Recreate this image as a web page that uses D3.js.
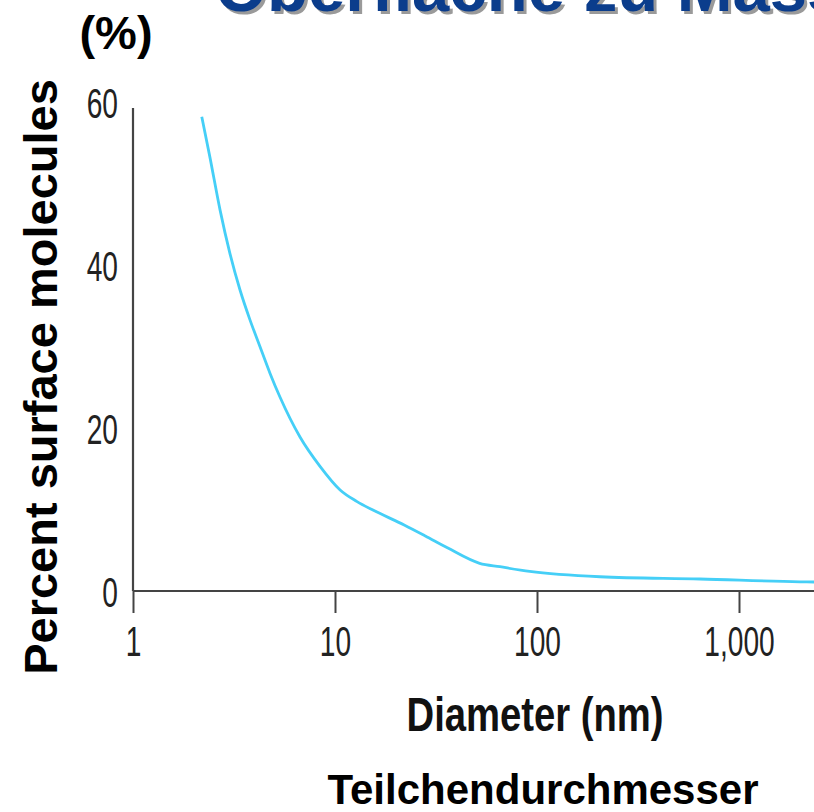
<!DOCTYPE html>
<html>
<head>
<meta charset="utf-8">
<title>Percent surface molecules</title>
<style>
  body { margin: 0; background: #fff; }
  svg { display: block; }
  .narrow { font-family: "Liberation Sans Narrow", "Liberation Sans", Arial, sans-serif; fill: #222; }
  .bold { font-family: "Liberation Sans", Arial, sans-serif; font-weight: bold; fill: #000; }
</style>
</head>
<body>
<script src="https://cdn.jsdelivr.net/npm/d3@7"></script>
<script>
// values
const diameters = [2.19, 2.4, 2.7, 3.02, 3.39, 3.79, 4.25, 4.77, 5.34, 6.71, 8.43, 10.6, 12.8, 15.5, 22, 28, 36, 52, 65.6, 92, 205, 641, 2004, 2400];
const percents  = [58.2, 53.3, 46.7, 41.4, 36.9, 33.3, 30.0, 26.7, 23.8, 18.9, 15.3, 12.4, 11.0, 9.9, 8.1, 6.75, 5.3, 3.4, 2.98, 2.4, 1.75, 1.47, 1.13, 1.1];
const xTicks = [1, 10, 100, 1000];
const xTickLabels = ["1", "10", "100", "1,000"];
const yTicks = [0, 20, 40, 60];

const W = 814, H = 812;

const svg = d3.select('body').append('svg')
  .attr('width', W)
  .attr('height', H);

const x = d3.scaleLog().domain([1, 1000]).range([133, 739]);
const y = d3.scaleLinear().domain([0, 60]).range([591, 102]);

// title cut off at the top edge
const title = "Oberfläche zu Masse";
svg.append('text').attr('class', 'bold')
  .attr('x', 218).attr('y', 14)
  .style('font-size', '67px').style('fill', '#9a9a9a')
  .text(title);
svg.append('text').attr('class', 'bold')
  .attr('x', 215).attr('y', 11)
  .style('font-size', '67px').style('fill', '#0b3d8c')
  .text(title);

svg.append('text').attr('class', 'bold')
  .attr('x', 116).attr('y', 49)
  .attr('text-anchor', 'middle')
  .style('font-size', '47px')
  .text('(%)');

// y axis
const gy = svg.append('g')
  .attr('transform', 'translate(133,0)')
  .call(d3.axisLeft(y).tickValues(yTicks).tickSize(0).tickPadding(14));
gy.select('.domain').remove();
gy.selectAll('text')
  .attr('class', 'narrow')
  .attr('dy', '0.36em')
  .attr('transform', 'translate(-15,0) scale(0.67,1)')
  .attr('x', 0)
  .style('font-size', '42px');

svg.append('line')
  .attr('x1', 133).attr('x2', 133)
  .attr('y1', 108).attr('y2', y(0))
  .attr('stroke', '#444').attr('stroke-width', 2.2);

// x axis
const gx = svg.append('g')
  .attr('transform', `translate(0,${y(0)})`)
  .call(d3.axisBottom(x).tickValues(xTicks).tickSize(22).tickPadding(10)
    .tickFormat((d, i) => xTickLabels[i]));
gx.select('.domain').remove();
gx.selectAll('.tick line').attr('stroke', '#444').attr('stroke-width', 2);
gx.selectAll('text')
  .attr('class', 'narrow')
  .attr('y', 0).attr('dy', 0)
  .attr('transform', 'translate(0,65) scale(0.67,1)')
  .style('font-size', '42px');

svg.append('line')
  .attr('x1', 133).attr('x2', W)
  .attr('y1', y(0)).attr('y2', y(0))
  .attr('stroke', '#444').attr('stroke-width', 2.2);

// curve
const line = d3.line()
  .x(d => x(d[0]))
  .y(d => y(d[1]))
  .curve(d3.curveMonotoneX);

svg.append('path')
  .datum(d3.zip(diameters, percents))
  .attr('d', line)
  .attr('fill', 'none')
  .attr('stroke', '#45cff7')
  .attr('stroke-width', 2.8);

// axis titles
svg.append('text').attr('class', 'narrow')
  .attr('transform', 'translate(535,731) scale(0.78,1)')
  .attr('text-anchor', 'middle')
  .style('font-size', '49px').style('font-weight', 'bold').style('fill', '#111')
  .text('Diameter (nm)');

svg.append('text').attr('class', 'bold')
  .attr('x', 543).attr('y', 804)
  .attr('text-anchor', 'middle')
  .style('font-size', '42px')
  .text('Teilchendurchmesser');

svg.append('text').attr('class', 'bold')
  .attr('transform', 'translate(57,377) rotate(-90)')
  .attr('text-anchor', 'middle')
  .style('font-size', '47px')
  .text('Percent surface molecules');
</script>
</body>
</html>
